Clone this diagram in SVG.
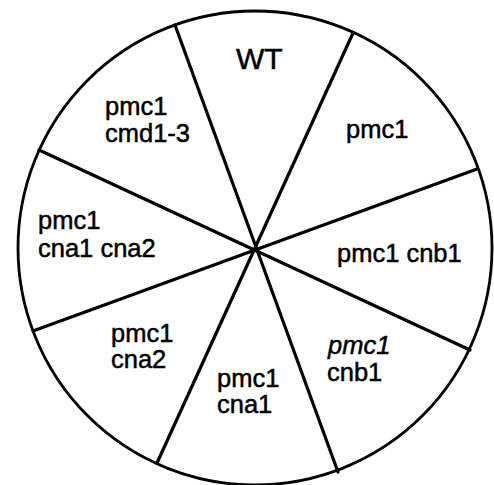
<svg xmlns="http://www.w3.org/2000/svg" width="494" height="485" viewBox="0 0 494 485">
<style>
.lbl{font-family:"Liberation Sans",Arial,Helvetica,sans-serif;font-size:25.5px;fill:#000;stroke:#000;stroke-width:0.5}
.wt{font-size:30px}
.sp{stroke:#000;stroke-width:3.2;stroke-linecap:round;fill:none}
</style>
<rect width="494" height="485" fill="#fff"/>
<circle cx="255" cy="248" r="237" fill="#fff" stroke="#000" stroke-width="2.8"/>
<g id="connectors">
<line class="sp" x1="175" y1="25" x2="338" y2="472"/>
<line class="sp" x1="353" y1="33" x2="157" y2="463"/>
<line class="sp" x1="477" y1="169" x2="33" y2="331"/>
<line class="sp" x1="470" y1="350" x2="39" y2="150"/>
</g>
<g id="wt"><text class="lbl wt" x="236" y="69">WT</text></g>
<g id="pmc1"><text class="lbl" x="346" y="138">pmc1</text></g>
<g id="pmc1-cnb1-a"><text class="lbl" x="337" y="262">pmc1 cnb1</text></g>
<g id="pmc1-cnb1-b"><text class="lbl" x="328" y="354" font-style="italic">pmc1</text><text class="lbl" x="327" y="381">cnb1</text></g>
<g id="pmc1-cna1"><text class="lbl" x="217" y="387">pmc1</text><text class="lbl" x="217" y="413">cna1</text></g>
<g id="pmc1-cna2"><text class="lbl" x="111" y="342">pmc1</text><text class="lbl" x="111" y="368">cna2</text></g>
<g id="pmc1-cna1-cna2"><text class="lbl" x="38" y="229">pmc1</text><text class="lbl" x="38" y="257">cna1 cna2</text></g>
<g id="pmc1-cmd1-3"><text class="lbl" x="105" y="115">pmc1</text><text class="lbl" x="105" y="142">cmd1-3</text></g>
</svg>
